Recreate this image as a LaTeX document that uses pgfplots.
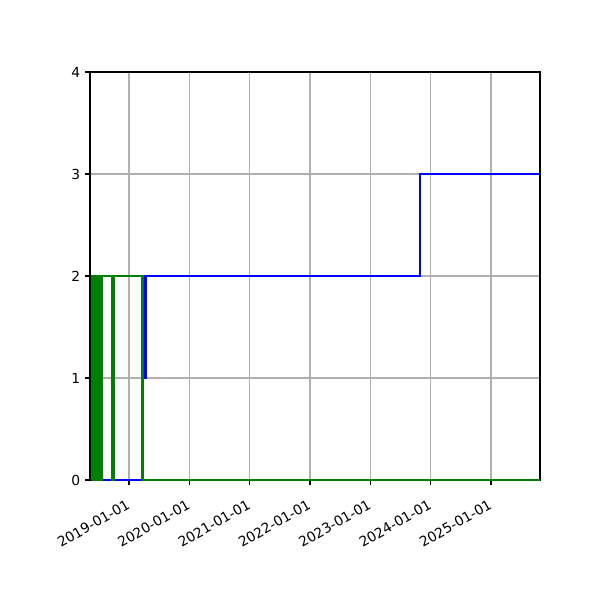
\documentclass[border=0pt]{standalone}
\usepackage{fontspec}
\setmainfont{DejaVu Sans}
\usepackage{pgfplots}
\pgfplotsset{compat=1.18}
\definecolor{mplgrid}{RGB}{176,176,176}
\definecolor{mplblue}{RGB}{0,0,255}
\definecolor{mplgreen}{RGB}{0,128,0}

\begin{document}
\begin{tikzpicture}
\path[use as bounding box] (-0.9in,-1.2in) rectangle (5.1in,4.8in);
\begin{axis}[
    at={(0,0)},anchor=south west,
    scale only axis,width=4.5in,height=4.08in,
    xmin=2018.354,xmax=2025.812,ymin=0,ymax=4,
    xtick={2019,2020,2021,2022,2023,2024,2025},
    xticklabels={2019-01-01,2020-01-01,2021-01-01,2022-01-01,2023-01-01,2024-01-01,2025-01-01},
    ytick={0,1,2,3,4},
    x tick label style={xshift=-2pt,yshift=-8.5pt,rotate=30,anchor=north east,font=\fontsize{10}{12}\selectfont,inner sep=1pt},
    y tick label style={font=\fontsize{10}{12}\selectfont},
    /pgf/number format/assume math mode=true,
    tick align=outside,major tick length=3.5pt,
    tick style={black,line width=0.8pt},
    xtick pos=bottom,ytick pos=left,
    grid=major,major grid style={mplgrid,line width=0.8pt},
    axis line style={line width=0.8pt},
]
% blue series
\addplot[const plot,mplblue,line width=1.5pt] coordinates {
(2018.365,2) (2018.380,0) (2018.425,2) (2018.432,0) (2018.545,2) (2018.552,0)
(2019.232,2) (2019.240,1) (2019.255,2) (2019.265,1) (2019.280,2)
(2023.824,3) (2025.812,3)
};
% green series
\addplot[const plot,mplgreen,line width=1.5pt] coordinates {
(2018.385,0) (2018.395,2) (2018.405,0) (2018.410,2) (2018.420,0) (2018.425,2)
(2018.440,0) (2018.445,2) (2018.460,0) (2018.465,2) (2018.480,0) (2018.485,2)
(2018.500,0) (2018.505,2) (2018.520,0) (2018.525,2) (2018.540,0) (2018.545,2)
(2018.720,0) (2018.730,2) (2018.745,0) (2018.750,2)
(2019.215,0) (2019.222,2) (2019.230,0) (2025.812,0)
};
\end{axis}
\end{tikzpicture}
\end{document}
